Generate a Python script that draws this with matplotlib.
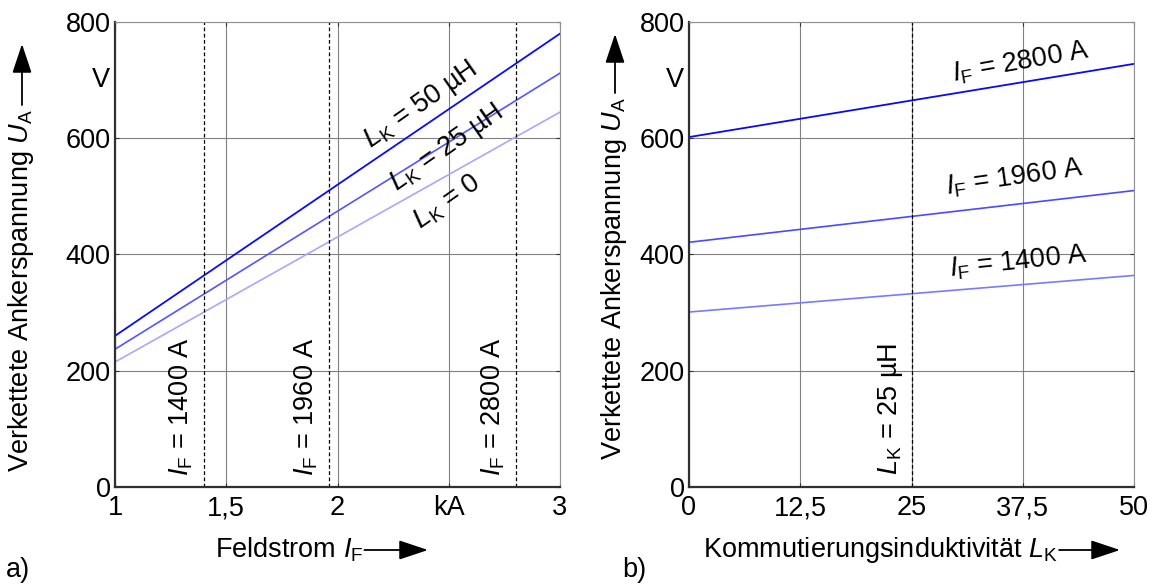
import matplotlib
matplotlib.use("Agg")
import matplotlib.pyplot as plt
from matplotlib.patches import FancyArrowPatch

plt.rcParams['font.family'] = ['Liberation Sans', 'DejaVu Sans']
plt.rcParams['mathtext.fontset'] = 'custom'
plt.rcParams['mathtext.rm'] = 'Liberation Sans'
plt.rcParams['mathtext.it'] = 'Liberation Sans:italic'

# a) Ankerspannung ueber Feldstrom (kA), je Kommutierungsinduktivitaet
feldstrom = [1, 3]
u_lk50 = [260, 780]
u_lk25 = [237, 712]
u_lk0 = [215, 645]
feldstrom_marks = [1.4, 1.96, 2.8]
feldstrom_mark_labels = ["1400 A", "1960 A", "2800 A"]

# b) Ankerspannung ueber Kommutierungsinduktivitaet (µH), je Feldstrom
induktivitaet = [0, 50]
u_if2800 = [602, 728]
u_if1960 = [421, 510]
u_if1400 = [301, 364]

x_ticks_a = [1, 1.5, 2, 2.5, 3]
x_ticklabels_a = ["1", "1,5", "2", "kA", "3"]
x_ticks_b = [0, 12.5, 25, 37.5, 50]
x_ticklabels_b = ["0", "12,5", "25", "37,5", "50"]
y_ticks = [0, 200, 400, 600, 800]

W, H = 1152, 584
fig = plt.figure(figsize=(W / 100, H / 100), dpi=100)
ax1 = fig.add_axes([115 / W, 1 - 487 / H, 445 / W, 465 / H])
ax2 = fig.add_axes([689 / W, 1 - 487 / H, 445 / W, 465 / H])

fs = 19.5


def style_axes(ax):
    ax.set_ylim(0, 800)
    ax.set_yticks(y_ticks)
    ax.grid(True, color="#808080", linewidth=0.8)
    ax.set_axisbelow(True)
    for s in ["top", "right"]:
        ax.spines[s].set_color("#909090")
        ax.spines[s].set_linewidth(0.8)
    for s in ["left", "bottom"]:
        ax.spines[s].set_color("#303030")
        ax.spines[s].set_linewidth(1.6)
    ax.tick_params(direction="in", length=3, width=0.8, top=True, right=True,
                   labelsize=fs, pad=6, colors="#303030", labelcolor="black")
    ax.tick_params(axis="y", pad=3)
    ax.text(-0.012, 700, "V", transform=ax.get_yaxis_transform(),
            ha="right", va="center", fontsize=fs)


# --- a) ---
ax1.plot(feldstrom, u_lk50, color="#0a0aff", lw=1.3)
ax1.plot(feldstrom, u_lk25, color="#5555ff", lw=1.2)
ax1.plot(feldstrom, u_lk0, color="#a8a8ff", lw=1.2)
for xm, lab in zip(feldstrom_marks, feldstrom_mark_labels):
    ax1.axvline(xm, color="black", lw=0.9, ls=(0, (3, 2)))
    ax1.text(xm - 0.1, 139, r"$I_\mathrm{F}$ = " + lab, rotation=90,
             ha="center", va="center", fontsize=fs)
ax1.set_xlim(1, 3)
ax1.set_xticks(x_ticks_a)
ax1.set_xticklabels(x_ticklabels_a)
style_axes(ax1)
ax1.text(2.375, 657, r"$L_\mathrm{K}$ = 50 µH", rotation=35, ha="center",
         va="center", rotation_mode="anchor", fontsize=fs)
ax1.text(2.49, 583, r"$L_\mathrm{K}$ = 25 µH", rotation=35, ha="center",
         va="center", rotation_mode="anchor", fontsize=fs)
ax1.text(2.49, 490, r"$L_\mathrm{K}$ = 0", rotation=35, ha="center",
         va="center", rotation_mode="anchor", fontsize=fs)

# --- b) ---
ax2.plot(induktivitaet, u_if2800, color="#0a0aee", lw=1.3)
ax2.plot(induktivitaet, u_if1960, color="#4a4aff", lw=1.2)
ax2.plot(induktivitaet, u_if1400, color="#7a7aff", lw=1.2)
ax2.axvline(25, color="black", lw=0.9, ls=(0, (3, 2)))
ax2.text(22.6, 134, r"$L_\mathrm{K}$ = 25 µH", rotation=90, ha="center",
         va="center", fontsize=fs)
ax2.set_xlim(0, 50)
ax2.set_xticks(x_ticks_b)
ax2.set_xticklabels(x_ticklabels_b)
style_axes(ax2)
ax2.text(37.3, 731, r"$I_\mathrm{F}$ = 2800 A", rotation=10, ha="center",
         va="center", rotation_mode="anchor", fontsize=fs)
ax2.text(36.6, 532, r"$I_\mathrm{F}$ = 1960 A", rotation=8, ha="center",
         va="center", rotation_mode="anchor", fontsize=fs)
ax2.text(37.0, 387, r"$I_\mathrm{F}$ = 1400 A", rotation=6, ha="center",
         va="center", rotation_mode="anchor", fontsize=fs)

# --- Achsbeschriftungen mit Pfeilen ---
arrow = dict(arrowstyle="-|>,head_length=0.9,head_width=0.3", color="black",
             lw=1.3, shrinkA=0, shrinkB=0, mutation_scale=20)


def px(x, y):
    return (x / W, 1 - y / H)


ylab = "Verkettete Ankerspannung $U_\\mathrm{A}$"
t_y1 = fig.text(*px(21, 472), ylab, rotation=90, ha="center", va="bottom", fontsize=fs)
t_y2 = fig.text(*px(614, 460), ylab, rotation=90, ha="center", va="bottom", fontsize=fs)
t_x1 = fig.text(*px(215, 550), r"Feldstrom $I_\mathrm{F}$", ha="left", va="center",
                fontsize=fs)
t_x2 = fig.text(*px(703, 550), r"Kommutierungsinduktivität $L_\mathrm{K}$", ha="left",
                va="center", fontsize=fs)

fig.canvas.draw()
r = fig.canvas.get_renderer()
for t, top in [(t_y1, 44), (t_y2, 34)]:
    bb = t.get_window_extent(r)
    y0 = H - bb.y1 - 4
    fig.add_artist(FancyArrowPatch(px(bb.x0 + bb.width / 2 + 1, y0), px(bb.x0 + bb.width / 2 + 1, top),
                                   transform=fig.transFigure, **arrow))
for t, end in [(t_x1, 428), (t_x2, 1120)]:
    bb = t.get_window_extent(r)
    fig.add_artist(FancyArrowPatch(px(bb.x1 + 1, 550), px(end, 550),
                                   transform=fig.transFigure, **arrow))

fig.text(*px(6, 570), "a)", ha="left", va="center", fontsize=fs)
fig.text(*px(622, 570), "b)", ha="left", va="center", fontsize=fs)

fig.savefig("out.png", dpi=100)
